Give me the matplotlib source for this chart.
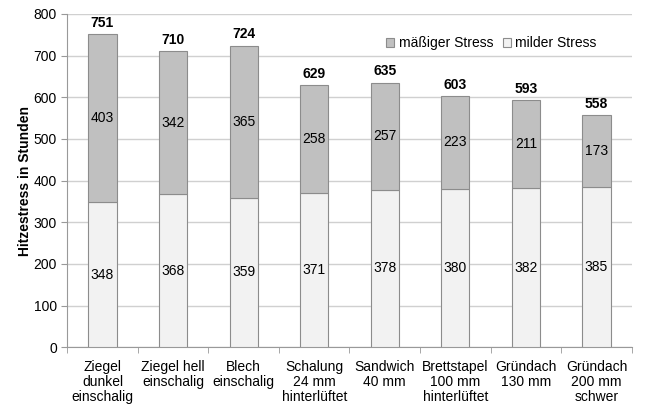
import matplotlib.pyplot as plt
import numpy as np

plt.rcParams['font.family'] = ['Liberation Sans', 'DejaVu Sans']

kategorien = ['Ziegel\ndunkel\neinschalig', 'Ziegel hell\neinschalig', 'Blech\neinschalig',
              'Schalung\n24 mm\nhinterlüftet', 'Sandwich\n40 mm', 'Brettstapel\n100 mm\nhinterlüftet',
              'Gründach\n130 mm', 'Gründach\n200 mm\nschwer']
milder = [348, 368, 359, 371, 378, 380, 382, 385]
maessiger = [403, 342, 365, 258, 257, 223, 211, 173]
summe = [751, 710, 724, 629, 635, 603, 593, 558]

fig = plt.figure(figsize=(6.46, 4.07), dpi=100)
ax = fig.add_axes([0.104, 0.147, 0.874, 0.819])

x = np.arange(len(kategorien))
b1 = ax.bar(x, milder, width=0.4, color='#f2f2f2', edgecolor='#8c8c8c', linewidth=0.8,
            label='milder Stress', zorder=3)
b2 = ax.bar(x, maessiger, width=0.4, bottom=milder, color='#c0c0c0', edgecolor='#8c8c8c',
            linewidth=0.8, label='mäßiger Stress', zorder=3)

# Werte in den Segmenten und Summen oben
for i in range(len(x)):
    ax.text(x[i], milder[i] / 2, str(milder[i]), ha='center', va='center', fontsize=10, zorder=4)
    ax.text(x[i], milder[i] + maessiger[i] / 2, str(maessiger[i]), ha='center', va='center',
            fontsize=10, zorder=4)
    ax.annotate(str(summe[i]), xy=(x[i], summe[i]), xytext=(0, 3), textcoords='offset points',
                ha='center', va='bottom', fontsize=10, fontweight='bold')

ax.set_xlim(-0.5, len(x) - 0.5)
ax.set_ylim(0, 800)
ax.set_yticks(range(0, 801, 100))
ax.set_xticks(x)
ax.set_xticklabels(kategorien, fontsize=10, linespacing=1.1)
ax.set_xticks(np.arange(-0.5, len(x), 1), minor=True)
ax.tick_params(axis='x', which='major', length=0, pad=9)
ax.tick_params(axis='x', which='minor', length=4, color='#999999')
ax.tick_params(axis='y', length=4, color='#999999', labelsize=10)
ax.set_ylabel('Hitzestress in Stunden', fontsize=10, fontweight='bold', labelpad=1)

ax.grid(axis='y', color='#d0d0d0', linewidth=1, zorder=0)
for s in ['top', 'right']:
    ax.spines[s].set_visible(False)
ax.spines['left'].set_color('#999999')
ax.spines['bottom'].set_color('#999999')

ax.legend([b2, b1], ['mäßiger Stress', 'milder Stress'], loc='upper right', ncol=2, frameon=False,
          fontsize=10, handlelength=0.6, handleheight=0.6, handletextpad=0.3, columnspacing=0.7,
          bbox_to_anchor=(0.96, 0.97))

fig.savefig('out.png', dpi=100)
